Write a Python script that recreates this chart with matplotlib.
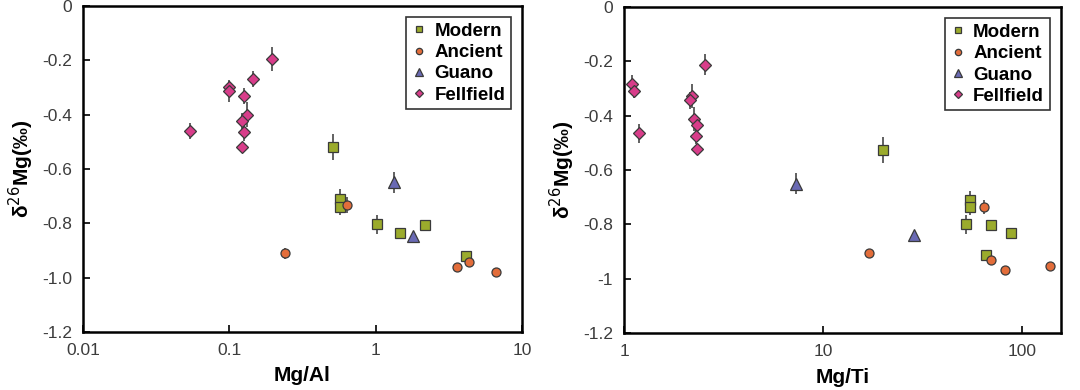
import numpy as np
import matplotlib
matplotlib.use('Agg')
import matplotlib.pyplot as plt

plt.rcParams['font.family'] = ['Liberation Sans', 'DejaVu Sans']

# ---- Mg/Al panel ----
modern_al_x = [0.508, 0.567, 0.567, 1.016, 1.46, 2.18, 4.12]
modern_al_y = [-0.518, -0.710, -0.739, -0.803, -0.837, -0.808, -0.919]
modern_al_e = [0.048, 0.035, 0.030, 0.035, 0.0, 0.0, 0.015]

ancient_al_x = [0.238, 0.64, 3.6, 4.34, 6.64]
ancient_al_y = [-0.911, -0.734, -0.960, -0.941, -0.979]
ancient_al_e = [0.02, 0.03, 0.0, 0.0, 0.015]

guano_al_x = [1.33, 1.79]
guano_al_y = [-0.650, -0.848]
guano_al_e = [0.04, 0.0]

fell_al_x = [0.054, 0.100, 0.100, 0.125, 0.131, 0.122, 0.126, 0.122, 0.145, 0.195]
fell_al_y = [-0.460, -0.299, -0.315, -0.332, -0.400, -0.425, -0.463, -0.518, -0.268, -0.195]
fell_al_e = [0.03, 0.025, 0.04, 0.03, 0.045, 0.03, 0.035, 0.0, 0.03, 0.045]

# ---- Mg/Ti panel ----
modern_ti_x = [20.1, 55.0, 55.0, 52.5, 70.0, 88.0, 66.0]
modern_ti_y = [-0.525, -0.712, -0.736, -0.799, -0.801, -0.833, -0.913]
modern_ti_e = [0.048, 0.035, 0.030, 0.035, 0.0, 0.0, 0.015]

ancient_ti_x = [17.0, 64.6, 69.8, 82.0, 139.0]
ancient_ti_y = [-0.906, -0.735, -0.931, -0.968, -0.953]
ancient_ti_e = [0.015, 0.025, 0.0, 0.0, 0.0]

guano_ti_x = [7.29, 28.7]
guano_ti_y = [-0.650, -0.839]
guano_ti_e = [0.04, 0.0]

fell_ti_x = [1.093, 1.118, 1.19, 2.19, 2.14, 2.24, 2.34, 2.30, 2.33, 2.56]
fell_ti_y = [-0.282, -0.309, -0.464, -0.328, -0.344, -0.413, -0.436, -0.474, -0.523, -0.212]
fell_ti_e = [0.03, 0.025, 0.035, 0.045, 0.03, 0.045, 0.03, 0.03, 0.02, 0.04]

groups = ['Modern', 'Ancient', 'Guano', 'Fellfield']
colors = ['#9bab2c', '#e36d3a', '#6a6ab4', '#d83d8a']
markers = ['s', 'o', '^', 'D']
msizes = [7, 6.5, 8, 6.5]


def draw_panel(ax, data, xlim, xticks, xticklabels, yticklabels, xlabel):
    for (x, y, e), name, c, m, ms in zip(data, groups, colors, markers, msizes):
        ax.errorbar(x, y, yerr=e, fmt='none', ecolor='#555555', elinewidth=1.3,
                    capsize=0, zorder=2)
        ax.plot(x, y, linestyle='none', marker=m, markersize=ms,
                markerfacecolor=c, markeredgecolor='#3a3a3a', markeredgewidth=0.9,
                zorder=3, label=name)
    ax.set_xscale('log')
    ax.set_xlim(xlim)
    ax.set_ylim(-1.2, 0)
    ax.set_xticks(xticks)
    ax.set_xticklabels(xticklabels)
    ax.minorticks_off()
    ax.set_yticks(np.arange(-1.2, 0.01, 0.2))
    ax.set_yticklabels(yticklabels)
    ax.tick_params(direction='in', length=5, width=1.2, labelsize=12.5,
                   labelcolor='#3c3c3c', pad=8)
    for s in ax.spines.values():
        s.set_linewidth(1.8)
    ax.set_xlabel(xlabel, fontsize=15, fontweight='bold', labelpad=6)
    ax.set_ylabel('δ$^{26}$Mg(‰)', fontsize=15, fontweight='bold', labelpad=4)
    leg = ax.legend(loc='upper right', fancybox=False, framealpha=1,
                    edgecolor='#333333', prop={'weight': 'bold', 'size': 13.5},
                    markerscale=0.7, handletextpad=0.4, handlelength=0.8,
                    borderaxespad=0.6, labelspacing=0.22, borderpad=0.3)
    leg.get_frame().set_linewidth(1.2)


fig = plt.figure(figsize=(10.8, 3.9), dpi=100)
ax1 = fig.add_axes([0.0769, 0.149, 0.4065, 0.836])
ax2 = fig.add_axes([0.5778, 0.146, 0.4046, 0.836])

data_al = [(modern_al_x, modern_al_y, modern_al_e),
           (ancient_al_x, ancient_al_y, ancient_al_e),
           (guano_al_x, guano_al_y, guano_al_e),
           (fell_al_x, fell_al_y, fell_al_e)]
data_ti = [(modern_ti_x, modern_ti_y, modern_ti_e),
           (ancient_ti_x, ancient_ti_y, ancient_ti_e),
           (guano_ti_x, guano_ti_y, guano_ti_e),
           (fell_ti_x, fell_ti_y, fell_ti_e)]

draw_panel(ax1, data_al, (0.01, 10), [0.01, 0.1, 1, 10], ['0.01', '0.1', '1', '10'],
           ['-1.2', '-1.0', '-0.8', '-0.6', '-0.4', '-0.2', '0'], 'Mg/Al')
draw_panel(ax2, data_ti, (1, 157), [1, 10, 100], ['1', '10', '100'],
           ['-1.2', '-1', '-0.8', '-0.6', '-0.4', '-0.2', '0'], 'Mg/Ti')

plt.savefig('out.png', dpi=100)
